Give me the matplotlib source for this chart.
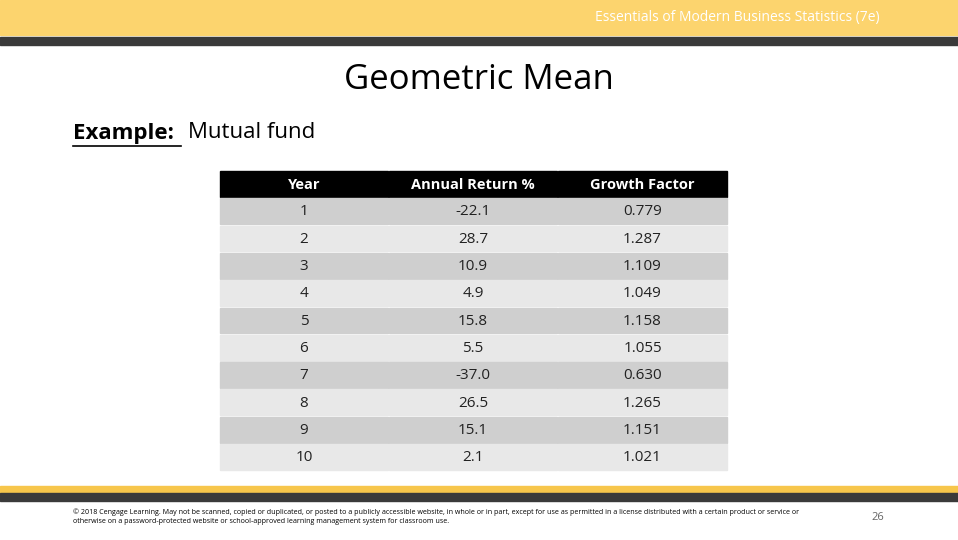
import matplotlib.pyplot as plt
from matplotlib.patches import Rectangle

years = [1, 2, 3, 4, 5, 6, 7, 8, 9, 10]
returns = [-22.1, 28.7, 10.9, 4.9, 15.8, 5.5, -37.0, 26.5, 15.1, 2.1]
growth = [0.779, 1.287, 1.109, 1.049, 1.158, 1.055, 0.630, 1.265, 1.151, 1.021]
headers = ['Year', 'Annual Return %', 'Growth Factor']

fig = plt.figure(figsize=(9.58, 5.4), dpi=100)
ax = fig.add_axes([0, 0, 1, 1])
ax.set_xlim(0, 958)
ax.set_ylim(540, 0)
ax.axis('off')

# header / footer bands
ax.add_patch(Rectangle((0, 0), 958, 35, color='#fcd46e'))
ax.add_patch(Rectangle((0, 37), 958, 8, color='#3a3a3a'))
ax.add_patch(Rectangle((0, 486), 958, 7, color='#f7c64b'))
ax.add_patch(Rectangle((0, 493), 958, 8, color='#3a3a3a'))

ax.text(880, 18, 'Essentials of Modern Business Statistics (7e)', color='white',
        fontsize=10, ha='right', va='center', family='Open Sans')
ax.text(479, 80, 'Geometric Mean', fontsize=25, ha='center', va='center', family='Open Sans')
ax.text(73, 133, 'Example:', fontsize=16, ha='left', va='center', family='Open Sans',
        weight='bold')
ax.plot([73, 181], [146, 146], color='black', lw=1.2)
ax.text(188, 133, 'Mutual fund', fontsize=16, ha='left', va='center', family='Open Sans')

# table
col_x = [220, 389, 558]
col_w = [168, 168, 169]
top = 171
row_h = 27.3
for j, h in enumerate(headers):
    ax.add_patch(Rectangle((col_x[j], top), col_w[j], row_h - 1.5, color='black'))
    ax.text(col_x[j] + col_w[j] / 2, top + row_h / 2, h, color='white', fontsize=10.5,
            ha='center', va='center', family='Open Sans', weight='bold')
for i in range(len(years)):
    y = top + row_h * (i + 1)
    fc = '#cfcfcf' if i % 2 == 0 else '#e8e8e8'
    vals = [str(years[i]), f'{returns[i]:.1f}', f'{growth[i]:.3f}']
    for j in range(3):
        ax.add_patch(Rectangle((col_x[j], y), col_w[j], row_h - 1.5, color=fc))
        ax.text(col_x[j] + col_w[j] / 2, y + row_h / 2, vals[j], fontsize=11,
                ha='center', va='center', family='Open Sans', color='#222222')

ax.text(73, 517, '© 2018 Cengage Learning. May not be scanned, copied or duplicated, or posted to a publicly accessible website, in whole or in part, except for use as permitted in a license distributed with a certain product or service or\n'
        'otherwise on a password-protected website or school-approved learning management system for classroom use.',
        fontsize=5.1, ha='left', va='center', family='Open Sans', linespacing=1.4)
ax.text(878, 518, '26', fontsize=8, ha='center', va='center', color='#666666', family='Open Sans')

fig.savefig('out.png', dpi=100)
